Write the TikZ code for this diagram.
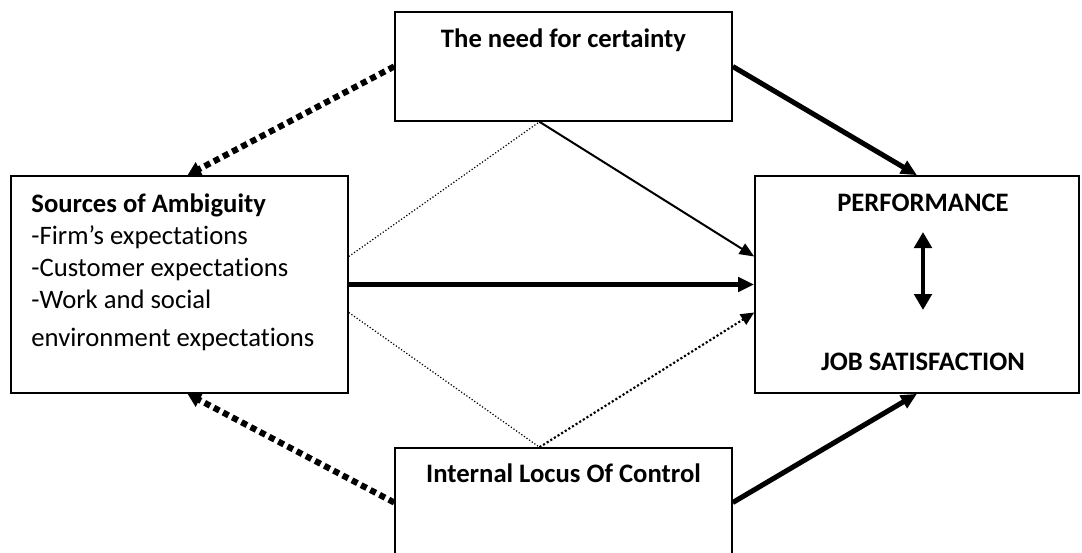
\documentclass[tikz,border=0pt]{standalone}
\usepackage{fontspec}
\setmainfont{Carlito}[Ligatures=NoCommon]
\usetikzlibrary{arrows.meta,positioning}

\begin{document}
\begin{tikzpicture}[x=0.75pt,y=-0.75pt,
  box/.style={draw,line width=1.2pt,inner sep=0pt},
  title/.style={font=\bfseries\fontsize{20}{24}\selectfont,inner sep=0pt},
  body/.style={font=\fontsize{20}{24}\selectfont,inner sep=0pt,align=left},
  heavy/.style={line width=3.8pt,-{Triangle[length=12pt,width=10.5pt]}},
  thin/.style={line width=1.5pt,-{Triangle[length=11pt,width=9pt]}},
  heavydots/.style={line width=4.6pt,dash pattern=on 4.6pt off 3.2pt,-{Triangle[length=10pt,width=11pt]}},
  finedots/.style={line width=0.9pt,dash pattern=on 0.9pt off 1.5pt},
  middots/.style={line width=1.6pt,dash pattern=on 1.6pt off 1.6pt,-{Triangle[length=10pt,width=9pt]}}]

\useasboundingbox (0,0) rectangle (1082,553);

% boxes
\node[box,minimum width=252.75pt,minimum height=81.75pt] (tnc) at (563.5,66.5) {};
\node[box,minimum width=252.75pt,minimum height=162.75pt] (src) at (179.5,284.5) {};
\node[box,minimum width=243pt,minimum height=162.75pt] (perf) at (917,284.5) {};
\node[box,minimum width=252.75pt,minimum height=81.75pt] (loc) at (563.5,502.5) {};

% texts
\node[title,anchor=base] (tnctxt) at ([yshift=-27pt]tnc.north) {The need for certainty};
\node[body,anchor=north west] (srctxt) at ([xshift=15.75pt,yshift=-13.5pt]src.north west)
  {\textbf{Sources of Ambiguity}\\-Firm’s expectations\\-Customer expectations\\-Work and social\\[4.5pt]environment expectations};
\node[title,anchor=base] (perftxt) at ([xshift=4.5pt,yshift=-27pt]perf.north) {PERFORMANCE};
\node[title,anchor=base] (jobtxt) at ([xshift=4.5pt,yshift=17.25pt]perf.south) {JOB SATISFACTION};
\node[title,anchor=base] (loctxt) at ([yshift=-26.25pt]loc.north) {Internal Locus Of Control};

% corners of the diamond
\coordinate (tncapex) at ([xshift=-18pt]tnc.south);
\coordinate (locapex) at ([xshift=-18pt]loc.north);

% outer arrows
\draw[heavydots] (tnc.west) -- ([xshift=6pt]src.north);
\draw[heavydots] (loc.west) -- ([xshift=6pt]src.south);
\draw[heavy] (tnc.east) -- (perf.north);
\draw[heavy] (loc.east) -- (perf.south);

% middle
\draw[heavy] (src.east) -- (perf.west);
\draw[thin] (tncapex) -- ([yshift=21pt]perf.west);
\draw[finedots] ([yshift=21pt]src.east) -- (tncapex);
\draw[finedots] ([yshift=-21pt]src.east) -- (locapex);
\draw[middots] (locapex) -- ([yshift=-21pt]perf.west);

% inside the right box
\coordinate (ptop) at (923,232);
\coordinate (pbot) at (923,310);
\draw[line width=3pt,{Triangle[length=12pt,width=13pt]}-{Triangle[length=12pt,width=13pt]}] (ptop) -- (pbot);

\end{tikzpicture}
\end{document}
